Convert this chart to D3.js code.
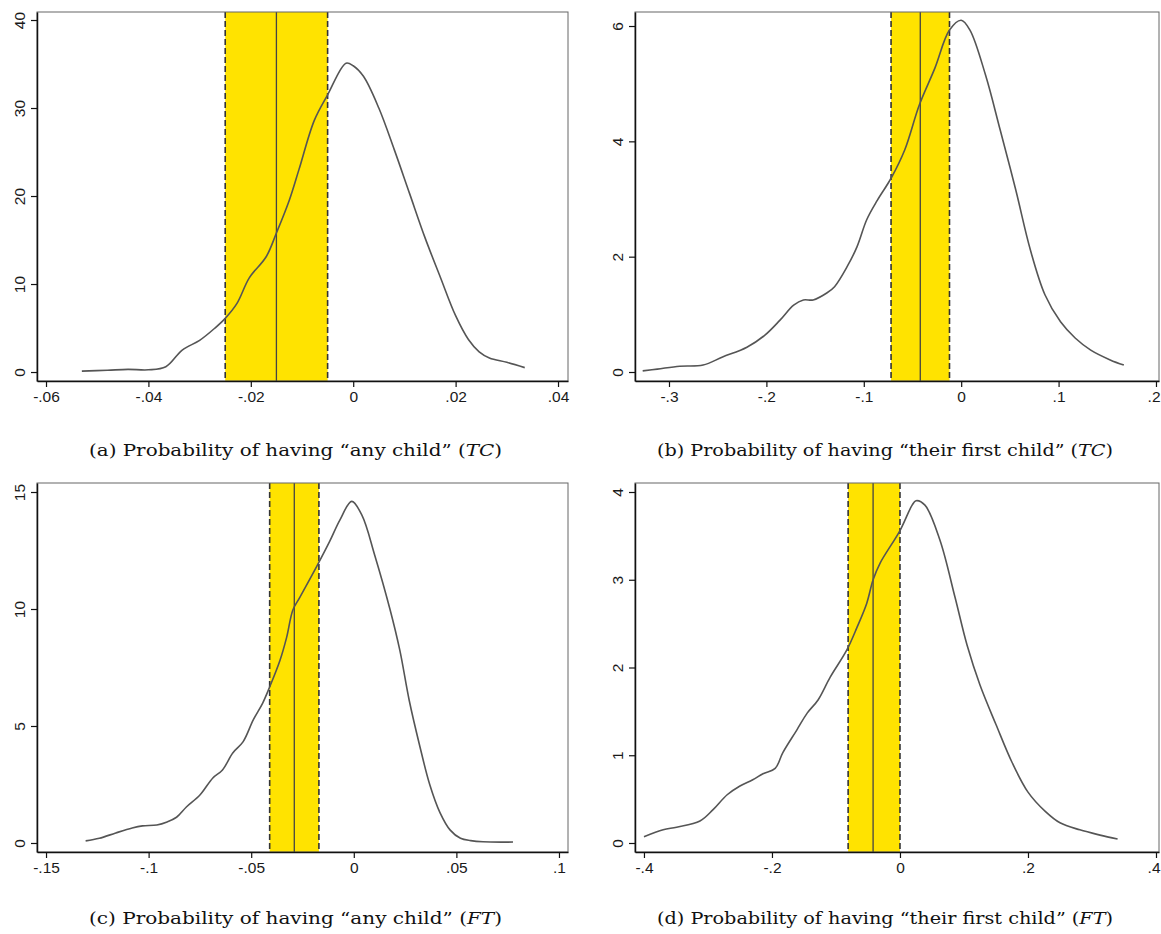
<!DOCTYPE html>
<html>
<head>
<meta charset="utf-8">
<script src="https://cdn.jsdelivr.net/npm/d3@7"></script>
<style>
  body { margin: 0; background: #fff; }
  svg { display: block; }
  .caption { font-family: "DejaVu Serif", "Liberation Serif", serif; font-size: 16.5px; fill: #111; }
</style>
</head>
<body>
<div id="chart"></div>
<script>
const W = 1161;
const H = 934;

// (a) any child, TC
const aX = [-0.053, -0.048, -0.044, -0.040, -0.0366, -0.0334, -0.030, -0.027, -0.025, -0.0227, -0.0203, -0.017, -0.015, -0.0125, -0.0106, -0.0076, -0.005, -0.0014, 0, 0.002, 0.005, 0.008, 0.011, 0.014, 0.017, 0.020, 0.0225, 0.0246, 0.0266, 0.030, 0.0335];
const aY = [0.1, 0.2, 0.3, 0.25, 0.6, 2.5, 3.6, 5.0, 6.1, 7.8, 10.7, 13.1, 15.8, 19.5, 23, 28.6, 31.5, 35.1, 34.8, 33.6, 30, 25.3, 20.3, 15.3, 10.8, 6.4, 3.7, 2.3, 1.6, 1.1, 0.5];
const aBand = [-0.025, -0.015, -0.005];
const aXTicks = [-0.06, -0.04, -0.02, 0, 0.02, 0.04];
const aYTicks = [0, 10, 20, 30, 40];

// (b) first child, TC
const bX = [-0.327, -0.312, -0.289, -0.265, -0.245, -0.22, -0.2015, -0.186, -0.172, -0.162, -0.152, -0.138, -0.13, -0.117, -0.107, -0.097, -0.086, -0.072, -0.058, -0.043, -0.027, -0.012, 0, 0.009, 0.025, 0.04, 0.056, 0.071, 0.086, 0.102, 0.117, 0.133, 0.153, 0.167];
const bY = [0.02, 0.05, 0.1, 0.12, 0.26, 0.43, 0.64, 0.9, 1.16, 1.25, 1.25, 1.37, 1.48, 1.83, 2.17, 2.64, 2.98, 3.36, 3.85, 4.63, 5.27, 5.93, 6.1, 5.93, 5.15, 4.2, 3.16, 2.12, 1.34, 0.87, 0.59, 0.38, 0.21, 0.12];
const bBand = [-0.072, -0.042, -0.012];
const bXTicks = [-0.3, -0.2, -0.1, 0, 0.1, 0.2];
const bYTicks = [0, 2, 4, 6];

// (c) any child, FT
const cX = [-0.1307, -0.124, -0.116, -0.108, -0.103, -0.096, -0.091, -0.0864, -0.0816, -0.075, -0.0687, -0.064, -0.059, -0.054, -0.049, -0.0444, -0.041, -0.036, -0.0327, -0.0297, -0.0263, -0.0176, -0.0117, -0.0068, -0.001, 0.004, 0.0102, 0.0176, 0.0224, 0.027, 0.032, 0.037, 0.042, 0.047, 0.052, 0.057, 0.063, 0.0776];
const cY = [0.09, 0.2, 0.43, 0.64, 0.73, 0.77, 0.9, 1.1, 1.54, 2.05, 2.78, 3.12, 3.85, 4.32, 5.26, 5.98, 6.67, 7.8, 8.8, 9.96, 10.5, 11.9, 12.9, 13.8, 14.6, 14.0, 12.3, 10, 8.25, 6.1, 4.2, 2.5, 1.3, 0.55, 0.2, 0.1, 0.05, 0.04];
const cBand = [-0.041, -0.029, -0.017];
const cXTicks = [-0.15, -0.1, -0.05, 0, 0.05, 0.1];
const cYTicks = [0, 5, 10, 15];

// (d) first child, FT
const dX = [-0.4, -0.37, -0.349, -0.3125, -0.292, -0.27, -0.25, -0.23, -0.214, -0.195, -0.183, -0.161, -0.145, -0.128, -0.109, -0.083, -0.067, -0.052, -0.042, -0.031, 0, 0.019, 0.025, 0.039, 0.0625, 0.086, 0.105, 0.125, 0.15, 0.175, 0.2, 0.227, 0.25, 0.281, 0.3125, 0.34];
const dY = [0.07, 0.15, 0.18, 0.25, 0.38, 0.55, 0.65, 0.72, 0.79, 0.85, 1.03, 1.29, 1.48, 1.63, 1.89, 2.2, 2.46, 2.73, 3.0, 3.19, 3.56, 3.85, 3.9, 3.85, 3.45, 2.8, 2.25, 1.8, 1.35, 0.92, 0.58, 0.36, 0.23, 0.15, 0.09, 0.045];
const dBand = [-0.081, -0.042, 0];
const dXTicks = [-0.4, -0.2, 0, 0.2, 0.4];
const dYTicks = [0, 1, 2, 3, 4];

const captionStart = ["(a) Probability of having \u201cany child\u201d (", "(b) Probability of having \u201ctheir first child\u201d (",
                      "(c) Probability of having \u201cany child\u201d (", "(d) Probability of having \u201ctheir first child\u201d ("];
const captionMath = ["TC", "TC", "FT", "FT"];

const panels = [
    { x: aX, y: aY, band: aBand, xt: aXTicks, yt: aYTicks, xd: [-0.06176, 0.04195], yd: [-1.02, 40.91],
      box: [37, 568, 12, 381], cap: [89, 456, 413] },
    { x: bX, y: bY, band: bBand, xt: bXTicks, yt: bYTicks, xd: [-0.3349, 0.2031], yd: [-0.156, 6.243],
      box: [635, 1159, 12, 381], cap: [657, 456, 456] },
    { x: cX, y: cY, band: cBand, xt: cXTicks, yt: cYTicks, xd: [-0.1544, 0.1044], yd: [-0.385, 15.385],
      box: [37, 568, 483, 852], cap: [89, 924, 413] },
    { x: dX, y: dY, band: dBand, xt: dXTicks, yt: dYTicks, xd: [-0.414, 0.4047], yd: [-0.1026, 4.1026],
      box: [635, 1159, 483, 852], cap: [657, 924, 456] }
];

const stataFmt = v => v === 0 ? "0" : String(+v.toFixed(4)).replace("0.", ".");

const svg = d3.select("#chart")
    .append("svg")
    .attr("width", W)
    .attr("height", H);

panels.forEach((p, i) => {
    const [l, r, t, b] = p.box;
    const x = d3.scaleLinear().domain(p.xd).range([l, r]);
    const y = d3.scaleLinear().domain(p.yd).range([b, t]);
    const g = svg.append("g");

    // CI band
    g.append("rect")
        .attr("x", x(p.band[0]))
        .attr("y", t)
        .attr("width", x(p.band[2]) - x(p.band[0]))
        .attr("height", b - t)
        .attr("fill", "#ffe300");

    g.selectAll(".dash")
        .data([p.band[0], p.band[2]])
        .enter()
        .append("line")
            .attr("x1", d => x(d)).attr("x2", d => x(d))
            .attr("y1", t).attr("y2", b)
            .attr("stroke", "#333")
            .attr("stroke-width", 1.6)
            .attr("stroke-dasharray", "6,3");

    g.append("line")
        .attr("x1", x(p.band[1])).attr("x2", x(p.band[1]))
        .attr("y1", t).attr("y2", b)
        .attr("stroke", "#444")
        .attr("stroke-width", 1.3);

    // plot region border (top/right)
    g.append("rect")
        .attr("x", l).attr("y", t)
        .attr("width", r - l).attr("height", b - t)
        .attr("fill", "none")
        .attr("stroke", "#666")
        .attr("stroke-width", 1);

    // density curve
    const line = d3.line()
        .x(d => x(d[0]))
        .y(d => y(d[1]))
        .curve(d3.curveCatmullRom);

    g.append("path")
        .datum(d3.zip(p.x, p.y))
        .attr("d", line)
        .attr("fill", "none")
        .attr("stroke", "#555")
        .attr("stroke-width", 1.6);

    // axes
    const xAxis = d3.axisBottom(x)
        .tickValues(p.xt)
        .tickFormat(stataFmt)
        .tickSize(6)
        .tickSizeOuter(0)
        .tickPadding(4);

    const gx = g.append("g")
        .attr("transform", "translate(0," + b + ")")
        .call(xAxis);

    const yAxis = d3.axisLeft(y)
        .tickValues(p.yt)
        .tickFormat(stataFmt)
        .tickSize(6)
        .tickSizeOuter(0);

    const gy = g.append("g")
        .attr("transform", "translate(" + l + ",0)")
        .call(yAxis);

    gy.selectAll(".tick text")
        .attr("transform", "rotate(-90)")
        .attr("x", 0)
        .attr("y", -12)
        .attr("dy", 0)
        .attr("text-anchor", "middle");

    // last x label sits at the page edge, keep it inside
    gx.selectAll(".tick text")
        .filter(d => x(d) > W - 12)
        .attr("text-anchor", "end")
        .attr("x", d => W - 1 - x(d));

    [gx, gy].forEach(a => {
        a.attr("font-size", null).attr("font-family", null);
        a.selectAll(".tick text")
            .style("font-family", "'Liberation Sans', Arial, sans-serif")
            .style("font-size", "15.5px")
            .attr("fill", "#1a1a1a");
        a.select(".domain").attr("stroke", "#111").attr("stroke-width", 1.5);
        a.selectAll(".tick line").attr("stroke", "#111").attr("stroke-width", 1.2);
    });

    // caption
    const cap = svg.append("text")
        .attr("class", "caption")
        .attr("x", p.cap[0])
        .attr("y", p.cap[1])
        .attr("textLength", p.cap[2])
        .attr("lengthAdjust", "spacingAndGlyphs");
    cap.append("tspan").text(captionStart[i]);
    cap.append("tspan").attr("font-style", "italic").text(captionMath[i]);
    cap.append("tspan").text(")");
});
</script>
</body>
</html>
